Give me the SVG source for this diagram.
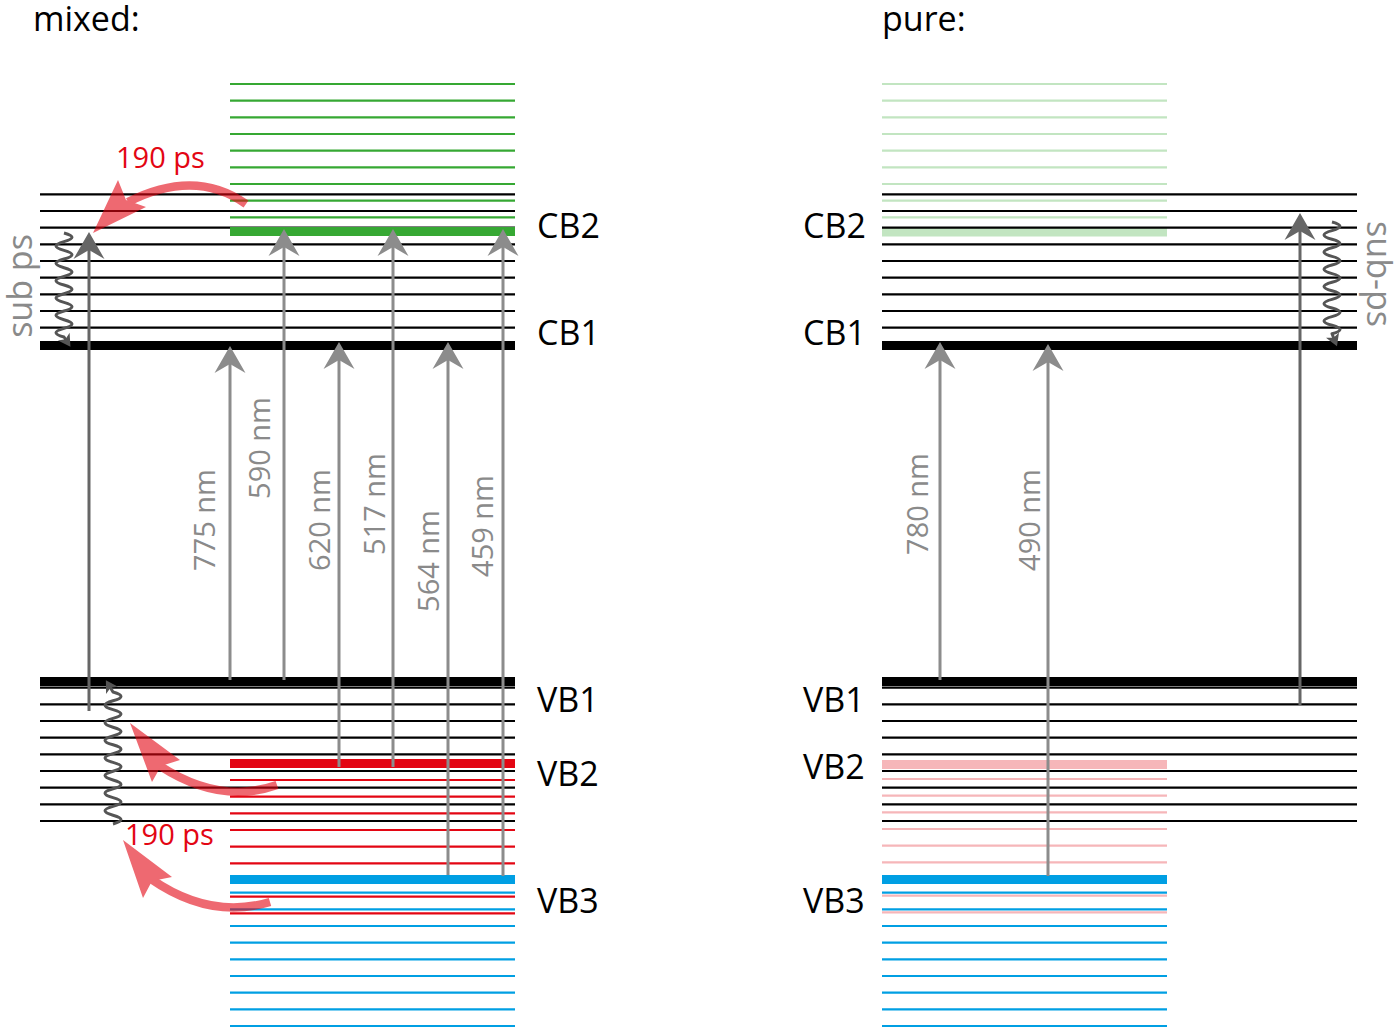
<svg xmlns="http://www.w3.org/2000/svg" width="1400" height="1031" viewBox="0 0 1400 1031">
<style>
text{font-family:"Open Sans","Noto Sans","Liberation Sans",sans-serif}
.ttl{font-size:34px;fill:#000}
.lbl{font-size:34px;fill:#000}
.nm{font-size:29px;fill:#8a8a8a}
.sp{font-size:34px;fill:#8a8a8a}
.ps{font-size:29px;fill:#e30613}
.k line{stroke:#000;stroke-width:2.2}
.g line{stroke:#36a833;stroke-width:2.2}
.r line{stroke:#e30613;stroke-width:2.2}
.b line{stroke:#009fe3;stroke-width:2.2}
.pg line{stroke:#c2e5c1;stroke-width:2.2}
.pr line{stroke:#f6b6b9;stroke-width:2.2}
.ar{stroke:#8c8c8c;stroke-width:3;fill:none;marker-end:url(#ah)}
.ard{stroke:#666;stroke-width:3;fill:none;marker-end:url(#ahd)}
.wv{stroke:#555;stroke-width:3;fill:none;stroke-linejoin:round;marker-end:url(#ahs)}
.rd{stroke:#e30613;stroke-width:8.5;fill:none}
</style>
<defs>
<marker id="ah" markerUnits="userSpaceOnUse" markerWidth="40" markerHeight="40" refX="0" refY="0" orient="auto" overflow="visible"><path d="M18,0 L-9,-15.5 L0,0 L-9,15.5 Z" fill="#8c8c8c"/></marker>
<marker id="ahd" markerUnits="userSpaceOnUse" markerWidth="40" markerHeight="40" refX="0" refY="0" orient="auto" overflow="visible"><path d="M18,0 L-9,-15.5 L0,0 L-9,15.5 Z" fill="#666"/></marker>
<marker id="ahs" markerUnits="userSpaceOnUse" markerWidth="20" markerHeight="20" refX="0" refY="0" orient="auto" overflow="visible"><path d="M8,0 L-4,-7 L-1,0 L-4,7 Z" fill="#555"/></marker>
</defs>
<rect width="1400" height="1031" fill="#fff"/>

<text class="ttl" x="33" y="31">mixed:</text>
<text class="ttl" x="882" y="31">pure:</text>

<!-- ===== MIXED PANEL ===== -->
<g id="mixed-black" class="k">
<line x1="40" x2="515" y1="194.33" y2="194.33"/>
<line x1="40" x2="515" y1="211" y2="211"/>
<line x1="40" x2="515" y1="227.67" y2="227.67"/>
<line x1="40" x2="515" y1="244.33" y2="244.33"/>
<line x1="40" x2="515" y1="261" y2="261"/>
<line x1="40" x2="515" y1="277.67" y2="277.67"/>
<line x1="40" x2="515" y1="294.33" y2="294.33"/>
<line x1="40" x2="515" y1="311" y2="311"/>
<line x1="40" x2="515" y1="327.67" y2="327.67"/>
<rect x="40" y="341" width="475" height="9" fill="#000"/>
<rect x="40" y="677" width="475" height="9" fill="#000"/>
<line x1="40" x2="515" y1="687.67" y2="687.67"/>
<line x1="40" x2="515" y1="704.33" y2="704.33"/>
<line x1="40" x2="515" y1="721" y2="721"/>
<line x1="40" x2="515" y1="737.67" y2="737.67"/>
<line x1="40" x2="515" y1="754.33" y2="754.33"/>
<line x1="40" x2="515" y1="771" y2="771"/>
<line x1="40" x2="515" y1="787.67" y2="787.67"/>
<line x1="40" x2="515" y1="804.33" y2="804.33"/>
<line x1="40" x2="515" y1="821" y2="821"/>
</g>
<g id="mixed-green" class="g">
<line x1="230" x2="515" y1="84" y2="84"/>
<line x1="230" x2="515" y1="100.67" y2="100.67"/>
<line x1="230" x2="515" y1="117.33" y2="117.33"/>
<line x1="230" x2="515" y1="134" y2="134"/>
<line x1="230" x2="515" y1="150.67" y2="150.67"/>
<line x1="230" x2="515" y1="167.33" y2="167.33"/>
<line x1="230" x2="515" y1="184" y2="184"/>
<line x1="230" x2="515" y1="200.67" y2="200.67"/>
<line x1="230" x2="515" y1="217.33" y2="217.33"/>
<rect x="230" y="227" width="285" height="9" fill="#36a833"/>
</g>
<g id="mixed-red" class="r">
<rect x="230" y="759" width="285" height="9" fill="#e30613"/>
<line x1="230" x2="515" y1="780" y2="780"/>
<line x1="230" x2="515" y1="796.67" y2="796.67"/>
<line x1="230" x2="515" y1="813.33" y2="813.33"/>
<line x1="230" x2="515" y1="830" y2="830"/>
<line x1="230" x2="515" y1="846.67" y2="846.67"/>
<line x1="230" x2="515" y1="863.33" y2="863.33"/>
<line x1="230" x2="515" y1="896.67" y2="896.67"/>
<line x1="230" x2="515" y1="913.33" y2="913.33"/>
</g>
<g id="mixed-blue" class="b">
<rect x="230" y="875" width="285" height="9" fill="#009fe3"/>
<line x1="230" x2="515" y1="892.67" y2="892.67"/>
<line x1="230" x2="515" y1="909.33" y2="909.33"/>
<line x1="230" x2="515" y1="926" y2="926"/>
<line x1="230" x2="515" y1="942.67" y2="942.67"/>
<line x1="230" x2="515" y1="959.33" y2="959.33"/>
<line x1="230" x2="515" y1="976" y2="976"/>
<line x1="230" x2="515" y1="992.67" y2="992.67"/>
<line x1="230" x2="515" y1="1009.33" y2="1009.33"/>
<line x1="230" x2="515" y1="1026" y2="1026"/>
</g>
<g id="mixed-labels">
<text class="lbl" x="537" y="238">CB2</text>
<text class="lbl" x="537" y="345">CB1</text>
<text class="lbl" x="537" y="712">VB1</text>
<text class="lbl" x="537" y="786">VB2</text>
<text class="lbl" x="537" y="913">VB3</text>
<text class="sp" text-anchor="middle" transform="translate(32,286) rotate(-90)">sub ps</text>
<text class="ps" x="116" y="168">190 ps</text>
<text class="ps" x="125" y="845">190 ps</text>
</g>

<!-- ===== PURE PANEL ===== -->
<g id="pure-green" class="pg">
<line x1="882" x2="1167" y1="84" y2="84"/>
<line x1="882" x2="1167" y1="100.67" y2="100.67"/>
<line x1="882" x2="1167" y1="117.33" y2="117.33"/>
<line x1="882" x2="1167" y1="134" y2="134"/>
<line x1="882" x2="1167" y1="150.67" y2="150.67"/>
<line x1="882" x2="1167" y1="167.33" y2="167.33"/>
<line x1="882" x2="1167" y1="184" y2="184"/>
<line x1="882" x2="1167" y1="200.67" y2="200.67"/>
<line x1="882" x2="1167" y1="217.33" y2="217.33"/>
<rect x="882" y="227.5" width="285" height="9" fill="#c2e5c1"/>
</g>
<g id="pure-red" class="pr">
<rect x="882" y="760" width="285" height="9" fill="#f6b6b9"/>
<line x1="882" x2="1167" y1="779" y2="779"/>
<line x1="882" x2="1167" y1="795.67" y2="795.67"/>
<line x1="882" x2="1167" y1="812.33" y2="812.33"/>
<line x1="882" x2="1167" y1="829" y2="829"/>
<line x1="882" x2="1167" y1="845.67" y2="845.67"/>
<line x1="882" x2="1167" y1="862.33" y2="862.33"/>
<line x1="882" x2="1167" y1="895.67" y2="895.67"/>
<line x1="882" x2="1167" y1="912.33" y2="912.33"/>
</g>
<g id="pure-black" class="k">
<line x1="882" x2="1357" y1="194.33" y2="194.33"/>
<line x1="882" x2="1357" y1="211" y2="211"/>
<line x1="882" x2="1357" y1="227.67" y2="227.67"/>
<line x1="882" x2="1357" y1="244.33" y2="244.33"/>
<line x1="882" x2="1357" y1="261" y2="261"/>
<line x1="882" x2="1357" y1="277.67" y2="277.67"/>
<line x1="882" x2="1357" y1="294.33" y2="294.33"/>
<line x1="882" x2="1357" y1="311" y2="311"/>
<line x1="882" x2="1357" y1="327.67" y2="327.67"/>
<rect x="882" y="341" width="475" height="9" fill="#000"/>
<rect x="882" y="677" width="475" height="9" fill="#000"/>
<line x1="882" x2="1357" y1="687.67" y2="687.67"/>
<line x1="882" x2="1357" y1="704.33" y2="704.33"/>
<line x1="882" x2="1357" y1="721" y2="721"/>
<line x1="882" x2="1357" y1="737.67" y2="737.67"/>
<line x1="882" x2="1357" y1="754.33" y2="754.33"/>
<line x1="882" x2="1357" y1="771" y2="771"/>
<line x1="882" x2="1357" y1="787.67" y2="787.67"/>
<line x1="882" x2="1357" y1="804.33" y2="804.33"/>
<line x1="882" x2="1357" y1="821" y2="821"/>
</g>
<g id="pure-blue" class="b">
<rect x="882" y="875" width="285" height="9" fill="#009fe3"/>
<line x1="882" x2="1167" y1="892.67" y2="892.67"/>
<line x1="882" x2="1167" y1="909.33" y2="909.33"/>
<line x1="882" x2="1167" y1="926" y2="926"/>
<line x1="882" x2="1167" y1="942.67" y2="942.67"/>
<line x1="882" x2="1167" y1="959.33" y2="959.33"/>
<line x1="882" x2="1167" y1="976" y2="976"/>
<line x1="882" x2="1167" y1="992.67" y2="992.67"/>
<line x1="882" x2="1167" y1="1009.33" y2="1009.33"/>
<line x1="882" x2="1167" y1="1026" y2="1026"/>
</g>
<g id="pure-labels">
<text class="lbl" x="803" y="238">CB2</text>
<text class="lbl" x="803" y="345">CB1</text>
<text class="lbl" x="803" y="712">VB1</text>
<text class="lbl" x="803" y="779">VB2</text>
<text class="lbl" x="803" y="913">VB3</text>
<text class="sp" text-anchor="middle" transform="translate(1367,274) rotate(90)">sub-ps</text>
</g>

<!-- ===== CONNECTORS ===== -->
<g id="connectors">
<line class="ard" x1="89" y1="711" x2="89" y2="250"/>
<line class="ar" x1="230" y1="680" x2="230" y2="364"/>
<line class="ar" x1="284" y1="680" x2="284" y2="247"/>
<line class="ar" x1="339" y1="767" x2="339" y2="360"/>
<line class="ar" x1="393" y1="767" x2="393" y2="247"/>
<line class="ar" x1="448" y1="875" x2="448" y2="360"/>
<line class="ar" x1="503" y1="876" x2="503" y2="247"/>
<line class="ar" x1="940" y1="680" x2="940" y2="360"/>
<line class="ar" x1="1048" y1="876" x2="1048" y2="362"/>
<line class="ard" x1="1300" y1="705" x2="1300" y2="231"/>

<path class="wv" d="M64 233 q16 4.33 0 8.67 t0 8.67 t0 8.67 t0 8.67 t0 8.67 t0 8.67 t0 8.67 t0 8.67 t0 8.67 t0 8.67 t0 8.67 t0 8.67 l2 3"/>
<path class="wv" d="M113 824 q16 -4.4 0 -8.8 t0 -8.8 t0 -8.8 t0 -8.8 t0 -8.8 t0 -8.8 t0 -8.8 t0 -8.8 t0 -8.8 t0 -8.8 t0 -8.8 t0 -8.8 t0 -8.8 t0 -8.8 t0 -8.8 l-3 -5"/>
<path class="wv" d="M1332 222 q16 4.3 0 8.6 t0 8.6 t0 8.6 t0 8.6 t0 8.6 t0 8.6 t0 8.6 t0 8.6 t0 8.6 t0 8.6 t0 8.6 t0 8.6 t0 8.6 l2 5"/>

<g opacity="0.6">
<path class="rd" d="M246 204 Q195 168 128 202"/>
<path d="M93 233 L118 180 L126 200 L146 207 Z" fill="#e30613"/>
</g>
<g opacity="0.6">
<path class="rd" d="M277 785 Q220 805 160 766"/>
<path d="M130 723 L180 760 L161 766 L152 782 Z" fill="#e30613"/>
</g>
<g opacity="0.6">
<path class="rd" d="M270 902 Q210 920 151 879"/>
<path d="M123 840 L172 877 L152 881 L143 898 Z" fill="#e30613"/>
</g>
</g>

<g id="wavelengths">
<text class="nm" text-anchor="middle" transform="translate(215,520) rotate(-90)">775 nm</text>
<text class="nm" text-anchor="middle" transform="translate(270,448) rotate(-90)">590 nm</text>
<text class="nm" text-anchor="middle" transform="translate(330,520) rotate(-90)">620 nm</text>
<text class="nm" text-anchor="middle" transform="translate(385,504) rotate(-90)">517 nm</text>
<text class="nm" text-anchor="middle" transform="translate(439,561) rotate(-90)">564 nm</text>
<text class="nm" text-anchor="middle" transform="translate(493,526) rotate(-90)">459 nm</text>
<text class="nm" text-anchor="middle" transform="translate(928,504) rotate(-90)">780 nm</text>
<text class="nm" text-anchor="middle" transform="translate(1040,520) rotate(-90)">490 nm</text>
</g>
</svg>
